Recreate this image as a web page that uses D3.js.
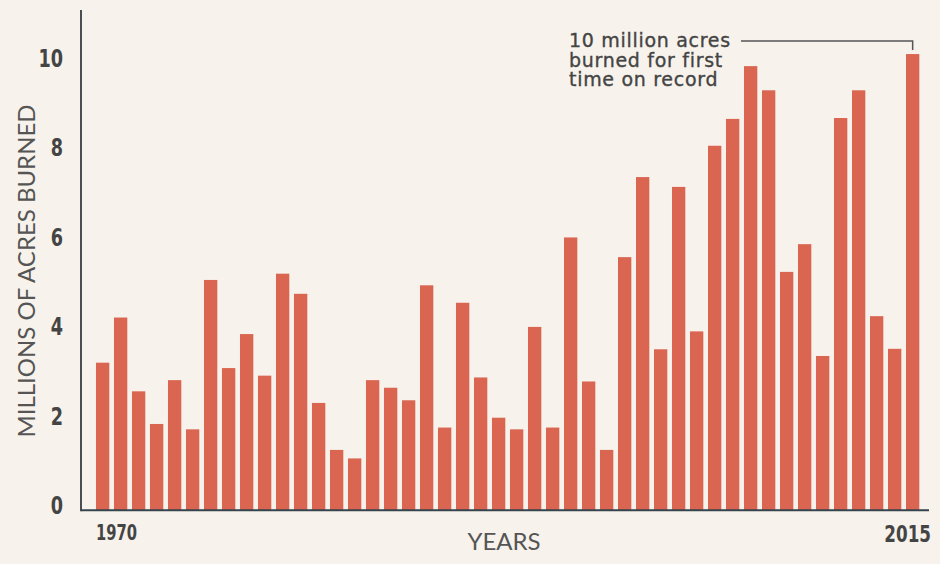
<!DOCTYPE html>
<html>
<head>
<meta charset="utf-8">
<script src="https://cdn.jsdelivr.net/npm/d3@7"></script>
<style>
  html, body { margin: 0; padding: 0; background: #f7f2eb; }
  svg { display: block; }
</style>
</head>
<body>
<div id="chart"></div>
<script>
const WIDTH = 940;
const HEIGHT = 564;

// acres burned, millions, one per year 1970..2015
const years = d3.range(1970, 2016);
const acres = [
  3.30, 4.31, 2.66, 1.93, 2.91, 1.81, 5.15, 3.18, 3.94, 3.01,
  5.29, 4.84, 2.40, 1.35, 1.16, 2.91, 2.74, 2.46, 5.03, 1.85,
  4.64, 2.97, 2.07, 1.81, 4.10, 1.85, 6.10, 2.88, 1.35, 5.66,
  7.45, 3.60, 7.23, 4.00, 8.15, 8.75, 9.93, 9.39, 5.33, 5.95,
  3.45, 8.77, 9.39, 4.34, 3.61, 10.2
];
const yTicks = [0, 2, 4, 6, 8, 10];
const xLabels = [1970, 2015];
const noteLines = ['10 million acres', 'burned for first', 'time on record'];

const AXIS_X = 81;
const TOP = 10;
const NUM_FONT = '"DejaVu Sans", sans-serif';
const SQUEEZE = 0.72; // fake a condensed face

const svg = d3.select('#chart')
  .append('svg')
  .attr('width', WIDTH)
  .attr('height', HEIGHT);

const x = d3.scaleBand()
  .domain(years)
  .range([91.3, 924])
  .paddingInner(0.26)
  .paddingOuter(0.26);

const y = d3.scaleLinear()
  .domain([0, 10])
  .range([510.3, 63]);

// bars
svg.append('g')
  .selectAll('rect')
  .data(years)
  .join('rect')
  .attr('fill', '#da6652')
  .attr('x', d => x(d))
  .attr('width', x.bandwidth())
  .attr('y', (d, i) => y(acres[i]))
  .attr('height', (d, i) => y(0) - y(acres[i]));

// axis lines
svg.append('line')
  .attr('x1', AXIS_X).attr('x2', AXIS_X)
  .attr('y1', TOP).attr('y2', y(0) + 1)
  .attr('stroke', '#4a4d52').attr('stroke-width', 2);

svg.append('line')
  .attr('x1', AXIS_X).attr('x2', 929)
  .attr('y1', y(0)).attr('y2', y(0))
  .attr('stroke', '#34434e').attr('stroke-width', 2);

// y tick labels
svg.append('g')
  .selectAll('text')
  .data(yTicks)
  .join('text')
  .attr('transform', d => `translate(63, ${y(d) + 4}) scale(${SQUEEZE}, 1)`)
  .attr('text-anchor', 'end')
  .attr('font-family', NUM_FONT)
  .attr('font-weight', 'bold')
  .attr('font-size', 24.5)
  .attr('fill', '#444')
  .text(d => d);

// y title
svg.append('text')
  .attr('transform', 'translate(35, 271) rotate(-90)')
  .attr('text-anchor', 'middle')
  .attr('font-family', 'Lato, "Open Sans", sans-serif')
  .attr('font-size', 24)
  .attr('fill', '#555')
  .text('MILLIONS OF ACRES BURNED');

// x labels, first and last year only
svg.append('g')
  .selectAll('text')
  .data(xLabels)
  .join('text')
  .attr('transform', d => d === 1970
    ? `translate(96, 540) scale(${SQUEEZE}, 1)`
    : `translate(931, 541.5) scale(${SQUEEZE}, 1)`)
  .attr('text-anchor', d => d === 1970 ? 'start' : 'end')
  .attr('font-family', NUM_FONT)
  .attr('font-weight', 'bold')
  .attr('font-size', d => d === 1970 ? 20.5 : 23.3)
  .attr('fill', '#444')
  .text(d => d);

svg.append('text')
  .attr('x', 504)
  .attr('y', 550)
  .attr('text-anchor', 'middle')
  .attr('font-family', 'Lato, "Open Sans", sans-serif')
  .attr('font-size', 24)
  .attr('fill', '#555')
  .text('YEARS');

// annotation
const note = svg.append('text')
  .attr('font-family', '"DejaVu Sans", sans-serif')
  .attr('font-size', 19)
  .attr('letter-spacing', 0.7)
  .attr('fill', '#444')
  .attr('stroke', '#444')
  .attr('stroke-width', 0.35);

note.selectAll('tspan')
  .data(noteLines)
  .join('tspan')
  .attr('x', 569)
  .attr('y', (d, i) => 47 + i * 19.6)
  .text(d => d);

const last = years[years.length - 1];
const lx = x(last) + x.bandwidth() / 2;
svg.append('path')
  .attr('d', `M741,41 H${lx} V${y(acres[acres.length - 1]) - 4}`)
  .attr('fill', 'none')
  .attr('stroke', '#555')
  .attr('stroke-width', 1.5);
</script>
</body>
</html>
